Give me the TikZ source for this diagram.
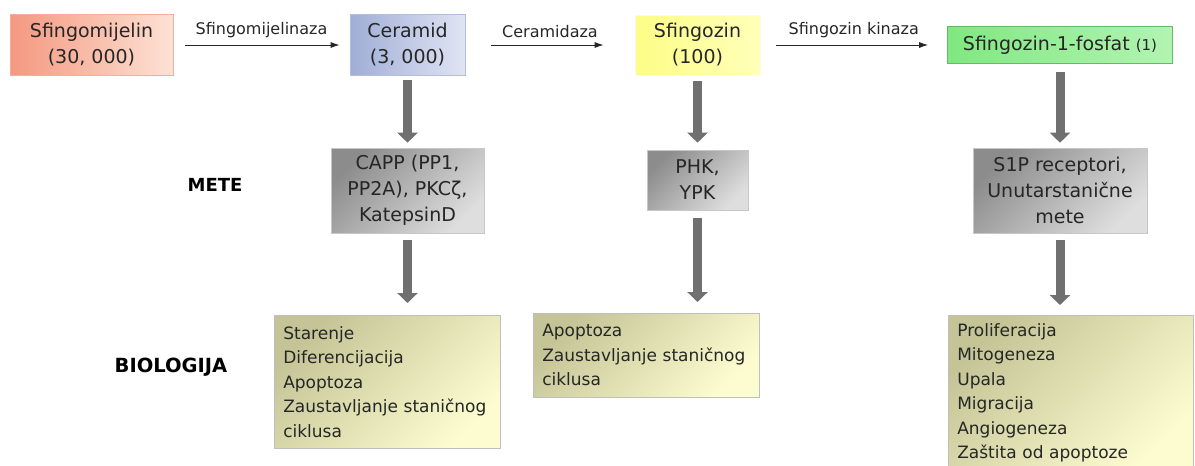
\documentclass[tikz,border=0pt]{standalone}
\usepackage{fontspec}
\setmainfont{DejaVu Sans}
\usepackage{tikz}
\usetikzlibrary{arrows, arrows.meta}

\definecolor{salmonL}{RGB}{244,152,128}
\definecolor{salmonR}{RGB}{253,226,212}
\definecolor{blueL}{RGB}{160,174,214}
\definecolor{blueR}{RGB}{224,228,244}
\definecolor{yellowL}{RGB}{253,253,135}
\definecolor{yellowR}{RGB}{255,255,185}
\definecolor{greenL}{RGB}{128,232,128}
\definecolor{greenR}{RGB}{178,244,178}
\definecolor{greyD}{RGB}{140,140,140}
\definecolor{greyL}{RGB}{222,222,222}
\definecolor{khakiD}{RGB}{196,196,150}
\definecolor{khakiL}{RGB}{252,252,208}
\definecolor{arrowgray}{RGB}{112,112,112}

\tikzstyle{molecule} = [rectangle, inner sep=0pt, text centered, align=center,
    font=\fontsize{19}{26}\selectfont, text=black!85, line width=0.6pt]
\tikzstyle{target} = [molecule, top color=greyD, bottom color=greyL,
    shading angle=45, draw=black!22]
\tikzstyle{biology} = [rectangle, anchor=north west, inner xsep=9pt, inner ysep=0pt,
    align=left, font=\fontsize{17}{24.5}\selectfont, text=black!85,
    top color=khakiD, bottom color=khakiL, shading angle=45, draw=black!25,
    line width=0.6pt]
\tikzstyle{enzyme} = [font=\fontsize{16}{19}\selectfont, text=black!85]
\tikzstyle{level} = [font=\fontsize{18}{22}\selectfont\bfseries]
\tikzstyle{arrow} = [line width=1pt, black!85, -{Latex[length=9pt,width=6pt]}]
\tikzstyle{bigarrow} = [line width=9pt, draw=arrowgray,
    -{Triangle[length=10pt,width=20pt]}]

\begin{document}
\begin{tikzpicture}[x=1pt, y=-1pt]
    \useasboundingbox (0,0) rectangle (1195,466);
    % Molecules
    \node[molecule, left color=salmonL, right color=salmonR, draw=salmonL!80,
        minimum width=163pt, minimum height=61pt] (sfingomijelin)
        at (91.5,45) {Sfingomijelin\\(30, 000)};
    \node[molecule, left color=blueL, right color=blueR, draw=blueL!80,
        minimum width=115pt, minimum height=61pt] (ceramid)
        at (407.5,45) {Ceramid\\(3, 000)};
    \node[molecule, left color=yellowL, right color=yellowR, draw=yellowL!80!black!10,
        minimum width=125pt, minimum height=60pt] (sfingozin)
        at (697.5,45) {Sfingozin\\(100)};
    \node[molecule, left color=greenL, right color=greenR, draw=greenL!80!black,
        minimum width=225pt, minimum height=37pt] (s1p)
        at (1060,45) {Sfingozin-1-fosfat {\fontsize{15}{18}\selectfont(1)}};
    % Enzymes
    \draw[arrow, shorten <=12pt, shorten >=10pt] (sfingomijelin) --
        node[enzyme, above=3pt] (smaza) {Sfingomijelinaza} (ceramid);
    \draw[arrow, shorten <=26pt, shorten >=31pt] (ceramid) --
        node[enzyme, above=3pt] (cdaza) {Ceramidaza} (sfingozin);
    \draw[arrow, shorten <=16pt, shorten >=19pt] (sfingozin) --
        node[enzyme, above=3pt] (skin) {Sfingozin kinaza} (s1p);
    % Targets
    \node[level] (mete) at (215,185) {METE};
    \node[target, minimum width=153pt, minimum height=85pt] (capp)
        at (407.5,190.5) {CAPP (PP1,\\PP2A), PKCζ,\\KatepsinD};
    \node[target, minimum width=101pt, minimum height=60pt] (phk)
        at (697.5,180) {PHK,\\YPK};
    \node[target, minimum width=174pt, minimum height=85pt] (s1pr)
        at (1060,190.5) {S1P receptori,\\Unutarstanične\\mete};
    % Biology
    \node[level, font=\fontsize{19.5}{22}\selectfont\bfseries] (biologija)
        at (171,367) {BIOLOGIJA};
    \node[biology, text width=208pt, minimum height=133pt] (bio1) at (274,315)
        {Starenje\\Diferencijacija\\Apoptoza\\Zaustavljanje staničnog\\ciklusa};
    \node[biology, text width=208pt, minimum height=84pt] (bio2) at (533,313)
        {Apoptoza\\Zaustavljanje staničnog\\ciklusa};
    \node[biology, text width=227pt, minimum height=155pt] (bio3) at (948,315)
        {Proliferacija\\Mitogeneza\\Upala\\Migracija\\Angiogeneza\\Zaštita od apoptoze};
    % Arrows
    \draw[bigarrow, shorten <=4pt, shorten >=5pt] (ceramid) -- (capp);
    \draw[bigarrow, shorten <=6pt, shorten >=7pt] (sfingozin) -- (phk);
    \draw[bigarrow, shorten <=8pt, shorten >=5pt] (s1p) -- (s1pr);
    \draw[bigarrow, shorten <=7pt, shorten >=12pt] (capp.south) -- (capp.south |- bio1.north);
    \draw[bigarrow, shorten <=8pt, shorten >=11pt] (phk.south) -- (phk.south |- bio2.north);
    \draw[bigarrow, shorten <=7pt, shorten >=10pt] (s1pr.south) -- (s1pr.south |- bio3.north);
\end{tikzpicture}
\end{document}
